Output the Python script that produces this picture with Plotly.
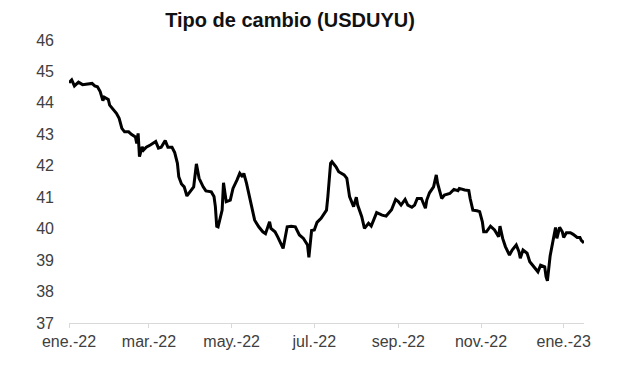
import plotly.graph_objects as go

dates = [
    "2022-01-03", "2022-01-05", "2022-01-07", "2022-01-10", "2022-01-13", "2022-01-17",
    "2022-01-20", "2022-01-22", "2022-01-24", "2022-01-26", "2022-01-28", "2022-01-29",
    "2022-02-01", "2022-02-02", "2022-02-05", "2022-02-07", "2022-02-09", "2022-02-11",
    "2022-02-13", "2022-02-16", "2022-02-18", "2022-02-21", "2022-02-22", "2022-02-23",
    "2022-02-24", "2022-02-26", "2022-02-27", "2022-03-01", "2022-03-04", "2022-03-06",
    "2022-03-08", "2022-03-10", "2022-03-12", "2022-03-15", "2022-03-17", "2022-03-20",
    "2022-03-22", "2022-03-24", "2022-03-25", "2022-03-27", "2022-03-29", "2022-03-31",
    "2022-04-02", "2022-04-05", "2022-04-07", "2022-04-09", "2022-04-12", "2022-04-14",
    "2022-04-18", "2022-04-19", "2022-04-20", "2022-04-21", "2022-04-22", "2022-04-23",
    "2022-04-26", "2022-04-27", "2022-04-29", "2022-05-02", "2022-05-04", "2022-05-07",
    "2022-05-09", "2022-05-11", "2022-05-12", "2022-05-14", "2022-05-18", "2022-05-20",
    "2022-05-23", "2022-05-26", "2022-05-28", "2022-05-31", "2022-06-01", "2022-06-04",
    "2022-06-06", "2022-06-10", "2022-06-13", "2022-06-16", "2022-06-19", "2022-06-22",
    "2022-06-25", "2022-06-28", "2022-06-29", "2022-07-01", "2022-07-03", "2022-07-05",
    "2022-07-08", "2022-07-12", "2022-07-13", "2022-07-15", "2022-07-16", "2022-07-19",
    "2022-07-21", "2022-07-25", "2022-07-27", "2022-07-29", "2022-08-01", "2022-08-03",
    "2022-08-04", "2022-08-07", "2022-08-09", "2022-08-12", "2022-08-14", "2022-08-16",
    "2022-08-18", "2022-08-22", "2022-08-25", "2022-08-29", "2022-09-01", "2022-09-03",
    "2022-09-05", "2022-09-08", "2022-09-10", "2022-09-13", "2022-09-15", "2022-09-17",
    "2022-09-20", "2022-09-23", "2022-09-24", "2022-09-26", "2022-09-29", "2022-10-01",
    "2022-10-02", "2022-10-05", "2022-10-07", "2022-10-11", "2022-10-14", "2022-10-17",
    "2022-10-18", "2022-10-22", "2022-10-25", "2022-10-26", "2022-10-28", "2022-10-31",
    "2022-11-02", "2022-11-04", "2022-11-05", "2022-11-07", "2022-11-10", "2022-11-13",
    "2022-11-16", "2022-11-17", "2022-11-19", "2022-11-21", "2022-11-24", "2022-11-26",
    "2022-11-29", "2022-12-01", "2022-12-02", "2022-12-04", "2022-12-07", "2022-12-09",
    "2022-12-12", "2022-12-15", "2022-12-17", "2022-12-20", "2022-12-21", "2022-12-22",
    "2022-12-24", "2022-12-26", "2022-12-28", "2022-12-29", "2022-12-31", "2023-01-02",
    "2023-01-03", "2023-01-05", "2023-01-08", "2023-01-10", "2023-01-13", "2023-01-15",
    "2023-01-16", "2023-01-18",
]

usduyu = [
    44.64, 44.73, 44.54, 44.66, 44.58, 44.60,
    44.62, 44.54, 44.51, 44.36, 44.07, 44.18,
    44.11, 43.93, 43.77, 43.67, 43.51, 43.19,
    43.08, 43.08, 43.00, 42.92, 42.71, 43.03,
    42.29, 42.60, 42.50, 42.59, 42.66, 42.73,
    42.77, 42.56, 42.59, 42.80, 42.59, 42.59,
    42.42, 42.08, 41.65, 41.42, 41.33, 41.04,
    41.17, 41.33, 42.06, 41.60, 41.33, 41.20,
    41.17, 41.10, 41.02, 40.70, 40.08, 40.06,
    40.59, 41.46, 40.86, 40.91, 41.28, 41.55,
    41.76, 41.65, 41.76, 41.44, 40.65, 40.27,
    40.06, 39.90, 39.84, 40.22, 40.01, 39.90,
    39.74, 39.37, 40.06, 40.08, 40.06, 39.80,
    39.69, 39.48, 39.09, 39.94, 39.96, 40.20,
    40.33, 40.59, 41.02, 42.08, 42.13, 41.97,
    41.81, 41.71, 41.60, 41.02, 40.70, 41.00,
    40.75, 40.38, 40.01, 40.17, 40.08, 40.27,
    40.51, 40.43, 40.40, 40.60, 40.93, 40.86,
    40.75, 40.93, 40.75, 40.68, 40.75, 40.96,
    40.96, 40.65, 40.91, 41.14, 41.33, 41.71,
    41.44, 40.96, 41.07, 41.12, 41.25, 41.21,
    41.28, 41.23, 41.21, 40.96, 40.59, 40.57,
    40.54, 40.22, 39.90, 39.90, 40.08, 39.96,
    39.74, 40.08, 39.69, 39.43, 39.16, 39.32,
    39.48, 39.27, 39.06, 39.32, 39.22, 38.95,
    38.79, 38.63, 38.84, 38.79, 38.47, 38.34,
    39.13, 39.53, 40.04, 39.69, 40.04, 39.90,
    39.72, 39.87, 39.87, 39.82, 39.72, 39.72,
    39.63, 39.55,
]

tick_dates = ["2022-01-03", "2022-03-03", "2022-05-03", "2022-07-03",
              "2022-09-03", "2022-11-03", "2023-01-03"]
tick_labels = ["ene.-22", "mar.-22", "may.-22", "jul.-22", "sep.-22", "nov.-22", "ene.-23"]
y_ticks = [37, 38, 39, 40, 41, 42, 43, 44, 45, 46]

fig = go.Figure()
fig.add_trace(go.Scatter(
    x=dates, y=usduyu, mode="lines",
    line=dict(color="black", width=3, shape="linear"),
    showlegend=False, hoverinfo="x+y",
))

font_family = "Liberation Sans, Arial, sans-serif"

fig.update_layout(
    width=617, height=368,
    margin=dict(l=69, r=33, t=40, b=45),
    paper_bgcolor="white", plot_bgcolor="white",
    font=dict(family=font_family, size=16, color="#404040"),
    title=dict(
        text="<b>Tipo de cambio (USDUYU)</b>",
        x=290 / 617, xref="container", xanchor="center",
        y=1 - 20 / 368, yref="container", yanchor="middle",
        font=dict(family=font_family, size=20, color="#111111"),
    ),
)

fig.update_xaxes(
    type="date",
    range=["2022-01-03", "2023-01-18"],
    tickvals=tick_dates, ticktext=tick_labels,
    showgrid=False, zeroline=False,
    showline=True, linecolor="#d9d9d9", linewidth=1,
    ticks="outside", ticklen=4, tickcolor="#d9d9d9", tickwidth=1,
    tickfont=dict(family=font_family, size=16, color="#404040"),
)

fig.update_yaxes(
    range=[37, 46],
    tickvals=y_ticks,
    showgrid=False, zeroline=False, showline=False,
    ticks="", ticklabelstandoff=14,
    tickfont=dict(family=font_family, size=16, color="#404040"),
)

fig.write_html("out.html")
